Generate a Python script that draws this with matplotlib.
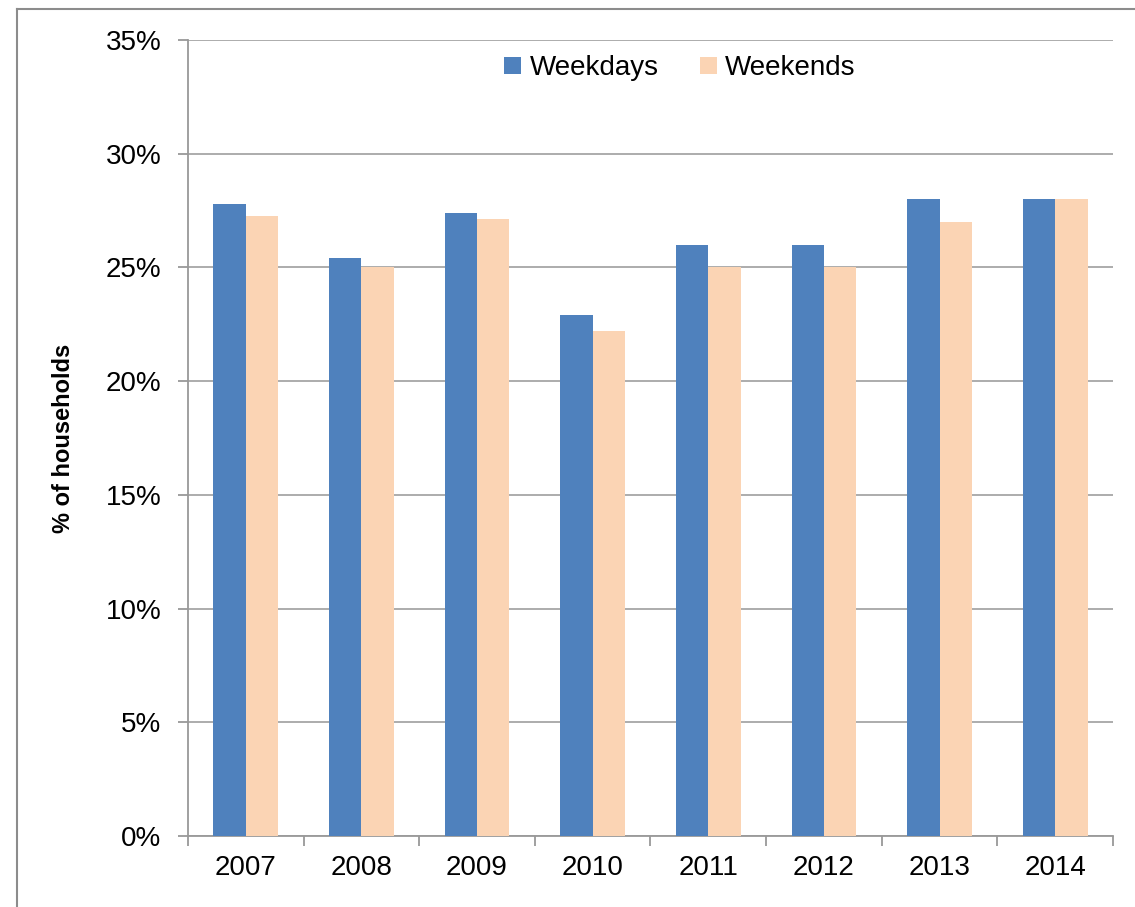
import numpy as np
import matplotlib.pyplot as plt
from matplotlib.lines import Line2D

years = ["2007", "2008", "2009", "2010", "2011", "2012", "2013", "2014"]
weekdays = [27.8, 25.4, 27.4, 22.9, 26.0, 26.0, 28.0, 28.0]
weekends = [27.25, 25.0, 27.15, 22.2, 25.0, 25.0, 27.0, 28.0]

plt.rcParams['font.family'] = ['Liberation Sans', 'DejaVu Sans']

fig = plt.figure(figsize=(11.35, 9.07), dpi=100)
ax = fig.add_axes([0.1656, 0.0783, 0.815, 0.8776])

x = np.arange(len(years))
w = 0.28
ax.bar(x - w/2, weekdays, w, color='#4F81BD', label='Weekdays', zorder=3)
ax.bar(x + w/2, weekends, w, color='#FBD4B4', label='Weekends', zorder=3)

ax.set_xlim(-0.5, len(years) - 0.5)
ax.set_ylim(0, 35)
ax.set_yticks(np.arange(0, 36, 5))
ax.set_yticklabels(["{}%".format(v) for v in range(0, 36, 5)])
ax.yaxis.grid(True, color='#A6A6A6', linewidth=1.3, zorder=0)

ax.set_xticks(np.arange(-0.5, len(years)), minor=False)
ax.set_xticklabels([])
ax.set_xticks(x, minor=True)
ax.set_xticklabels(years, minor=True)
ax.tick_params(axis='x', which='major', length=7, color='#999999', width=1.3)
ax.tick_params(axis='x', which='minor', length=0, pad=14, labelsize=20)
ax.tick_params(axis='y', length=7, color='#999999', width=1.3, pad=12, labelsize=20)

for s in ['top', 'right']:
    ax.spines[s].set_visible(False)
for s in ['left', 'bottom']:
    ax.spines[s].set_color('#999999')
    ax.spines[s].set_linewidth(1.3)

ax.set_ylabel('% of households', fontsize=17, fontweight='bold', labelpad=22)

ax.legend(loc='upper center', bbox_to_anchor=(0.532, 1.012), ncol=2, frameon=False,
          fontsize=20, handlelength=0.6, handleheight=0.6, handletextpad=0.3,
          columnspacing=1.5)

# outer chart frame
fig.add_artist(Line2D([0.015, 1.0], [0.990, 0.990], transform=fig.transFigure,
                      color='#8C8C8C', linewidth=1.5))
fig.add_artist(Line2D([0.015, 0.015], [0.0, 0.990], transform=fig.transFigure,
                      color='#8C8C8C', linewidth=1.5))

fig.savefig('out.png', dpi=100)
